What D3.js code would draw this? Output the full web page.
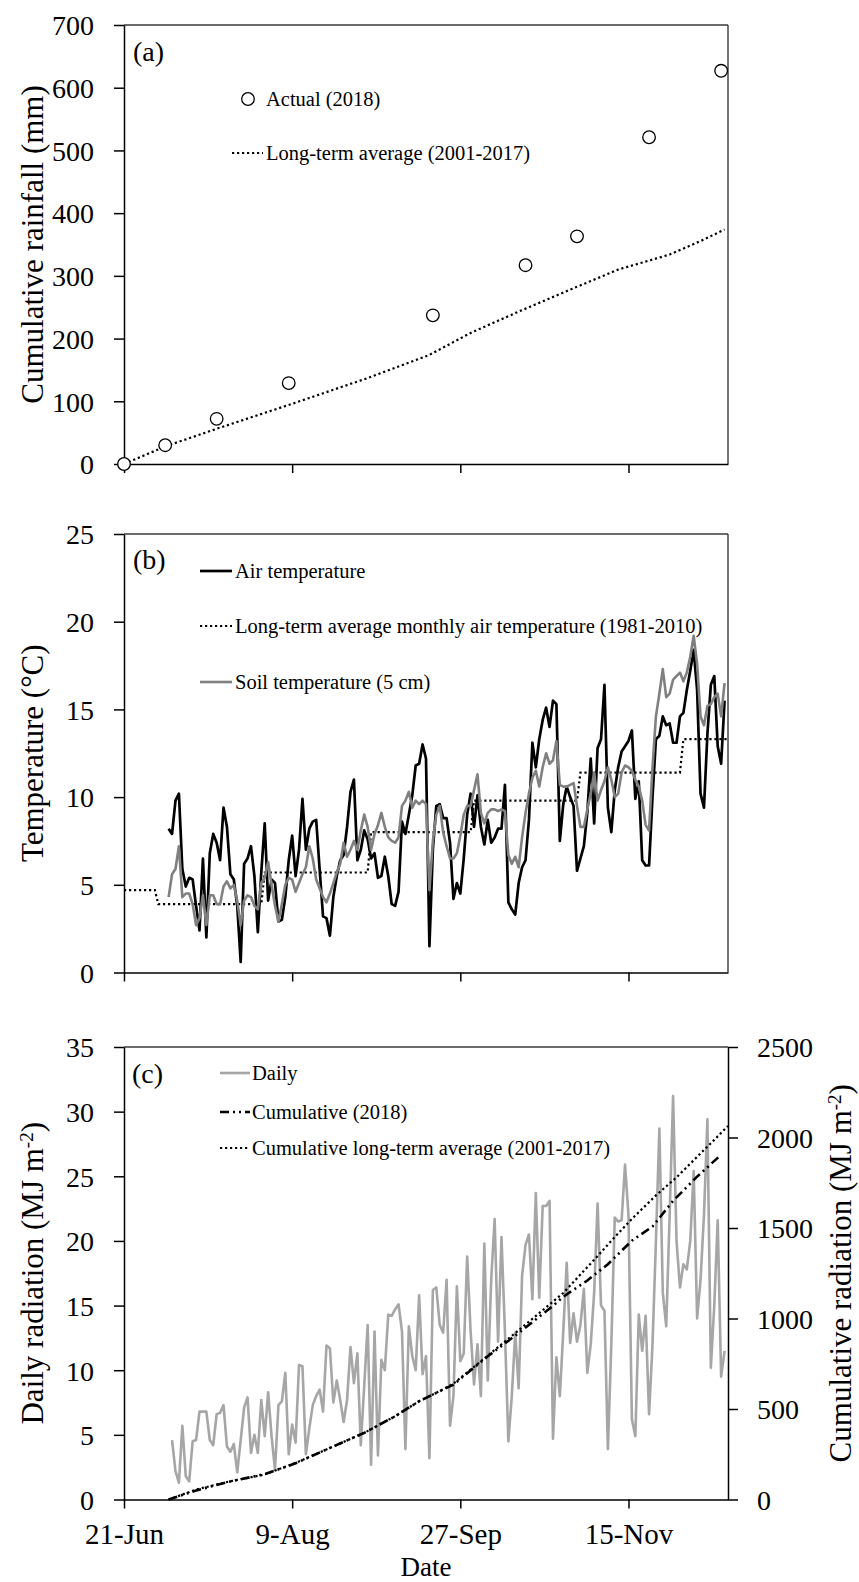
<!DOCTYPE html>
<html>
<head>
<meta charset="utf-8">
<script src="https://cdn.jsdelivr.net/npm/d3@7"></script>
<style>
  body { margin: 0; background: #fff; }
  svg text { font-family: "Liberation Serif", "Times New Roman", serif; fill: #000; }
</style>
</head>
<body>
<div id="chart"></div>
<script>
// ---- data ----

// (a) cumulative rainfall
const rainDates = ["2018-06-21","2018-07-03","2018-07-18","2018-08-08","2018-09-19","2018-10-16","2018-10-31","2018-11-21","2018-12-12"]
const rainActual = [0, 30, 72, 129, 237, 317, 363, 521, 627]
const rainLtDates = ["2018-06-21","2018-07-03","2018-07-19","2018-08-09","2018-08-31","2018-09-18","2018-09-30","2018-10-14","2018-10-29","2018-11-12","2018-11-27","2018-12-07","2018-12-13"]
const rainLt = [0, 28, 58, 96, 137, 174, 209, 243, 278, 310, 334, 358, 374]

// (b) temperature, daily from 4 Jul
const tempStart = "2018-07-04"
const airTemp = [
  8.2, 7.9, 9.8, 10.2, 5.9, 4.9, 5.4, 5.3, 3.8, 2.4,
  6.5, 2.0, 6.8, 7.9, 7.4, 6.4, 9.4, 8.3, 5.6, 5.3,
  3.8, 0.6, 6.2, 6.5, 7.2, 5.5, 2.3, 5.7, 8.5, 4.1,
  5.3, 5.1, 2.9, 3.0, 4.3, 6.4, 7.8, 5.5, 7.0, 9.9,
  7.0, 8.2, 8.6, 8.7, 5.9, 3.2, 3.1, 2.1, 4.3, 5.5,
  6.4, 6.7, 8.3, 10.3, 11.0, 6.4, 7.0, 8.1, 7.6, 6.5,
  6.8, 5.4, 5.5, 6.6, 5.5, 3.9, 3.8, 4.6, 8.6, 7.9,
  9.0, 10.1, 11.8, 11.9, 13.0, 12.2, 1.5, 7.0, 9.5, 9.6,
  8.8, 8.8, 7.4, 4.2, 5.1, 4.5, 6.5, 9.0, 10.2, 8.3,
  10.1, 8.3, 7.3, 8.7, 7.4, 7.7, 8.2, 8.2, 10.7, 4.0,
  3.6, 3.3, 5.1, 6.0, 6.4, 8.7, 13.1, 11.7, 13.3, 14.4,
  15.1, 14.0, 15.5, 15.3, 7.5, 9.6, 10.6, 10.0, 9.5, 5.8,
  6.5, 7.2, 9.1, 12.2, 8.5, 12.8, 13.3, 16.4, 9.4, 8.0,
  10.4, 11.7, 12.6, 12.9, 13.2, 13.8, 9.9, 10.9, 6.4, 6.1,
  6.1, 10.0, 13.3, 13.5, 14.6, 14.1, 14.2, 13.1, 13.1, 14.6,
  14.8, 16.1, 17.2, 18.4, 16.1, 10.2, 9.4, 13.6, 16.4, 16.9,
  12.9, 11.9, 15.5
]
const soilTemp = [
  4.3, 5.6, 5.9, 7.2, 4.3, 4.5, 4.5, 3.9, 2.7, 3.1,
  4.4, 2.7, 4.4, 4.4, 3.9, 3.9, 4.9, 5.2, 4.8, 5.0,
  4.1, 2.7, 4.1, 4.4, 4.3, 3.8, 3.6, 5.1, 5.4, 6.3,
  5.0, 3.8, 2.9, 3.9, 5.0, 5.4, 5.3, 4.6, 5.1, 5.6,
  6.0, 7.2, 6.5, 5.3, 4.8, 4.3, 4.0, 4.5, 5.1, 5.7,
  6.2, 7.4, 6.6, 7.0, 7.5, 7.0, 8.1, 9.0, 8.3, 7.0,
  7.9, 8.4, 9.1, 8.3, 7.7, 7.5, 7.4, 7.7, 9.5, 9.8,
  10.3, 9.4, 9.8, 9.6, 9.8, 9.6, 4.7, 7.5, 9.0, 9.5,
  8.0, 7.2, 6.5, 6.5, 6.8, 7.8, 9.0, 9.5, 9.5, 10.4,
  11.3, 9.1, 8.5, 9.1, 9.3, 9.3, 9.2, 9.3, 9.2, 6.7,
  6.2, 6.6, 6.0, 7.7, 9.1, 10.2, 11.1, 11.5, 10.6, 11.7,
  12.5, 11.9, 12.1, 13.2, 10.7, 10.6, 10.6, 10.7, 10.8, 9.5,
  8.3, 8.3, 9.3, 10.2, 11.4, 9.8, 10.4, 10.9, 11.7, 11.0,
  10.0, 10.2, 11.4, 11.8, 11.7, 11.5, 11.0, 10.6, 9.8, 8.4,
  8.1, 11.7, 14.6, 15.9, 17.3, 15.7, 15.9, 16.7, 16.9, 17.1,
  16.6, 17.1, 18.0, 19.2, 17.6, 14.6, 14.1, 15.2, 15.3, 15.7,
  15.9, 14.6, 16.5
]
// long-term monthly means (1981-2010), step line
const monthStarts = ["2018-06-21","2018-07-01","2018-08-01","2018-09-01","2018-10-01","2018-11-01","2018-12-01"]
const monthlyTemp = [4.7, 3.9, 5.7, 8.0, 9.8, 11.4, 13.3]
const seriesEnd = "2018-12-14"

// (c) radiation, daily from 5 Jul
const radStart = "2018-07-05"
const radDaily = [
  4.6, 2.2, 1.3, 5.7, 1.8, 1.4, 4.5, 4.6, 6.8, 6.8,
  6.8, 4.6, 4.2, 6.6, 6.7, 7.3, 4.1, 3.7, 4.3, 2.1,
  4.6, 7.1, 7.9, 3.6, 5.0, 3.6, 7.7, 4.9, 8.3, 4.9,
  2.3, 7.3, 7.6, 9.8, 3.5, 5.8, 4.4, 10.4, 10.3, 3.5,
  5.5, 7.3, 8.0, 8.5, 6.8, 11.9, 11.7, 7.5, 9.2, 7.7,
  6.0, 7.7, 11.8, 9.0, 11.3, 4.2, 8.8, 13.5, 2.7, 13.0,
  3.4, 10.8, 10.0, 14.3, 14.2, 14.7, 15.1, 13.0, 3.9, 13.4,
  11.1, 10.0, 15.8, 9.7, 11.1, 3.2, 16.2, 16.4, 13.5, 12.9,
  17.0, 5.7, 8.0, 16.5, 10.7, 11.3, 18.8, 13.0, 8.9, 12.0,
  8.0, 19.8, 9.2, 17.0, 21.7, 12.2, 20.3, 13.0, 4.5, 8.0,
  12.9, 8.6, 17.3, 19.7, 20.5, 15.5, 23.7, 15.6, 22.7, 22.7,
  23.1, 4.7, 11.0, 8.0, 13.0, 18.3, 12.1, 14.4, 12.2, 13.5,
  16.3, 9.8, 12.0, 16.0, 22.9, 15.0, 14.6, 3.9, 12.0, 21.8,
  21.5, 21.6, 25.9, 22.0, 6.2, 4.9, 14.3, 11.5, 14.2, 6.6,
  12.0, 20.0, 28.7, 16.0, 13.4, 22.0, 31.2, 20.0, 16.4, 18.2,
  17.8, 20.0, 25.4, 14.0, 17.0, 22.0, 29.4, 10.2, 15.0, 21.6,
  9.5, 11.5
]
const cumRadDates = ["2018-07-04","2018-07-12","2018-07-22","2018-08-01","2018-08-10","2018-08-20","2018-08-30","2018-09-08","2018-09-15","2018-09-20","2018-09-25","2018-10-05","2018-10-14","2018-10-20","2018-10-24","2018-10-27","2018-11-03","2018-11-09","2018-11-16","2018-11-22","2018-11-28","2018-12-05","2018-12-12"]
const cumRad2018 = [0, 50, 100, 140, 200, 285, 368, 460, 543, 589, 635, 791, 920, 1010, 1070, 1120, 1210, 1300, 1430, 1508, 1650, 1784, 1905]
const cumRadLtDates = ["2018-07-04","2018-07-12","2018-07-22","2018-08-01","2018-08-10","2018-08-20","2018-08-30","2018-09-08","2018-09-15","2018-09-20","2018-09-25","2018-10-05","2018-10-14","2018-10-20","2018-10-27","2018-11-06","2018-11-11","2018-11-16","2018-11-23","2018-11-29","2018-12-05","2018-12-10","2018-12-14"]
const cumRadLt = [0, 55, 101, 138, 202, 285, 368, 460, 543, 589, 640, 795, 935, 1030, 1141, 1345, 1450, 1550, 1680, 1780, 1893, 1987, 2064]

// axis ticks
const xTickDates = ["2018-06-21","2018-08-09","2018-09-27","2018-11-15"]
const rainTicks = [0, 100, 200, 300, 400, 500, 600, 700]
const tempTicks = [0, 5, 10, 15, 20, 25]
const radTicks = [0, 5, 10, 15, 20, 25, 30, 35]
const cumTicks = [0, 500, 1000, 1500, 2000, 2500]

// ---- layout ----
const width = 859, height = 1582
const left = 124, right = 728
const pa = { top: 25, bottom: 464 }
const pb = { top: 534, bottom: 972.5 }
const pc = { top: 1047, bottom: 1499.5 }

const parse = d3.utcParse("%Y-%m-%d")

const svg = d3.select("#chart").append("svg")
    .attr("width", width)
    .attr("height", height)

svg.append("rect").attr("width", width).attr("height", height).attr("fill", "#fff")

const x = d3.scaleUtc()
  .domain([parse("2018-06-21"), parse(seriesEnd)])
  .range([left, right])

const yA = d3.scaleLinear().domain([0, 700]).range([pa.bottom, pa.top])
const yB = d3.scaleLinear().domain([0, 25]).range([pb.bottom, pb.top])
const yC = d3.scaleLinear().domain([0, 35]).range([pc.bottom, pc.top])
const yC2 = d3.scaleLinear().domain([0, 2500]).range([pc.bottom, pc.top])

const daily = (start, values) => values.map((v, i) => ({ date: d3.utcDay.offset(parse(start), i), v }))
const paired = (dates, values) => dates.map((d, i) => ({ date: parse(d), v: values[i] }))

// frame + axes for a panel
function frame(p, y, ticks, showDates, rightBorder) {
  const g = svg.append("g")

  g.append("line")
    .attr("x1", left).attr("x2", right)
    .attr("y1", p.top).attr("y2", p.top)
    .attr("stroke", "#3a3a3a").attr("stroke-width", 1.4)
  if (rightBorder) {
    g.append("line")
      .attr("x1", right).attr("x2", right)
      .attr("y1", p.top).attr("y2", p.bottom)
      .attr("stroke", "#3a3a3a").attr("stroke-width", 1.4)
  }

  const ya = g.append("g")
    .attr("transform", "translate(" + left + ",0)")
    .call(d3.axisLeft(y).tickValues(ticks).tickSize(10).tickSizeOuter(0).tickPadding(20).tickFormat(d3.format("d")))
  ya.selectAll("text").style("font-size", "28px").attr("dy", "0.35em")

  const xa = g.append("g")
    .attr("transform", "translate(0," + p.bottom + ")")
    .call(d3.axisBottom(x)
      .tickValues(xTickDates.map(parse))
      .tickSize(9).tickSizeOuter(0).tickPadding(15)
      .tickFormat(showDates ? d3.utcFormat("%-d-%b") : ""))
  xa.selectAll("text").style("font-size", "29px")

  g.selectAll(".domain, .tick line").attr("stroke", "#000").attr("stroke-width", 1.5)
  g.selectAll(".tick text").attr("fill", "#000")
  return g
}

function yTitle(xPos, yPos, parts) {
  const t = svg.append("text")
    .attr("transform", "translate(" + xPos + "," + yPos + ") rotate(-90)")
    .attr("text-anchor", "middle")
    .style("font-size", "31px")
  parts.forEach(pt => {
    const s = t.append("tspan").text(pt.t)
    if (pt.sup) s.attr("baseline-shift", "super").style("font-size", "19px")
  })
}

const line = y => d3.line().x(d => x(d.date)).y(d => y(d.v))
const legendFont = "20.5px"

// ---------- (a) ----------
frame(pa, yA, rainTicks, false, true)
yTitle(43, (pa.top + pa.bottom) / 2, [{ t: "Cumulative rainfall (mm)" }])

svg.append("path")
  .datum(paired(rainLtDates, rainLt))
  .attr("d", line(yA))
  .attr("fill", "none").attr("stroke", "#000")
  .attr("stroke-width", 2.2).attr("stroke-dasharray", "2.2,2.8")

svg.selectAll(".rain")
  .data(paired(rainDates, rainActual))
  .join("circle")
  .attr("class", "rain")
  .attr("cx", d => x(d.date))
  .attr("cy", d => yA(d.v))
  .attr("r", 6.3)
  .attr("fill", "#fff").attr("stroke", "#000").attr("stroke-width", 1.3)

svg.append("text").attr("x", 133).attr("y", 61).style("font-size", "28px").text("(a)")
svg.append("circle").attr("cx", 248).attr("cy", 99).attr("r", 6.3)
  .attr("fill", "#fff").attr("stroke", "#000").attr("stroke-width", 1.3)
svg.append("text").attr("x", 266).attr("y", 99).attr("dy", "0.35em").style("font-size", legendFont).text("Actual (2018)")
svg.append("line").attr("x1", 232).attr("x2", 263).attr("y1", 153).attr("y2", 153)
  .attr("stroke", "#000").attr("stroke-width", 2.2).attr("stroke-dasharray", "2.2,2.8")
svg.append("text").attr("x", 266).attr("y", 153).attr("dy", "0.35em").style("font-size", legendFont).text("Long-term average (2001-2017)")

// ---------- (b) ----------
frame(pb, yB, tempTicks, false, true)
yTitle(43, (pb.top + pb.bottom) / 2, [{ t: "Temperature (°C)" }])

// monthly step: each month flat from its first to its last day
const stepPts = []
monthStarts.forEach((m, i) => {
  const s = parse(m)
  const e = i < monthStarts.length - 1 ? d3.utcDay.offset(parse(monthStarts[i + 1]), -1) : parse(seriesEnd)
  stepPts.push({ date: s, v: monthlyTemp[i] }, { date: e, v: monthlyTemp[i] })
})

svg.append("path")
  .datum(daily(tempStart, airTemp))
  .attr("d", line(yB))
  .attr("fill", "none").attr("stroke", "#000").attr("stroke-width", 2.7)
  .attr("stroke-linejoin", "round")

svg.append("path")
  .datum(stepPts)
  .attr("d", line(yB))
  .attr("fill", "none").attr("stroke", "#000")
  .attr("stroke-width", 2.2).attr("stroke-dasharray", "2.2,2.8")

svg.append("path")
  .datum(daily(tempStart, soilTemp))
  .attr("d", line(yB))
  .attr("fill", "none").attr("stroke", "#808080").attr("stroke-width", 2.6)
  .attr("stroke-linejoin", "round")

svg.append("text").attr("x", 133).attr("y", 569).style("font-size", "28px").text("(b)")
const legB = [
  { y: 571, label: "Air temperature", color: "#000", dash: null, w: 2.7 },
  { y: 626, label: "Long-term average monthly air temperature (1981-2010)", color: "#000", dash: "2.2,2.8", w: 2.2 },
  { y: 682, label: "Soil temperature (5 cm)", color: "#808080", dash: null, w: 2.6 }
]
legB.forEach(l => {
  svg.append("line").attr("x1", 200).attr("x2", 232).attr("y1", l.y).attr("y2", l.y)
    .attr("stroke", l.color).attr("stroke-width", l.w).attr("stroke-dasharray", l.dash)
  svg.append("text").attr("x", 235).attr("y", l.y).attr("dy", "0.35em").style("font-size", legendFont).text(l.label)
})

// ---------- (c) ----------
frame(pc, yC, radTicks, true, false)
const ra = svg.append("g")
  .attr("transform", "translate(" + right + ",0)")
  .call(d3.axisRight(yC2).tickValues(cumTicks).tickSize(10).tickSizeOuter(0).tickPadding(19).tickFormat(d3.format("d")))
ra.selectAll("text").style("font-size", "28px").attr("dy", "0.35em").attr("fill", "#000")
ra.selectAll(".domain, .tick line").attr("stroke", "#000").attr("stroke-width", 1.5)

yTitle(43, (pc.top + pc.bottom) / 2, [{ t: "Daily radiation (MJ m" }, { t: "-2", sup: true }, { t: ")" }])
yTitle(851, (pc.top + pc.bottom) / 2, [{ t: "Cumulative radiation (MJ m" }, { t: "-2", sup: true }, { t: ")" }])

svg.append("text").attr("x", (left + right) / 2).attr("y", 1575.5)
  .attr("text-anchor", "middle").style("font-size", "27px").text("Date")

svg.append("path")
  .datum(daily(radStart, radDaily))
  .attr("d", line(yC))
  .attr("fill", "none").attr("stroke", "#a6a6a6").attr("stroke-width", 2.6)
  .attr("stroke-linejoin", "round")

svg.append("path")
  .datum(paired(cumRadDates, cumRad2018))
  .attr("d", line(yC2))
  .attr("fill", "none").attr("stroke", "#000")
  .attr("stroke-width", 2.6).attr("stroke-dasharray", "9,4,2,4,2,4")

svg.append("path")
  .datum(paired(cumRadLtDates, cumRadLt))
  .attr("d", line(yC2))
  .attr("fill", "none").attr("stroke", "#000")
  .attr("stroke-width", 2.2).attr("stroke-dasharray", "2.2,2.8")

svg.append("text").attr("x", 132).attr("y", 1083).style("font-size", "28px").text("(c)")
const legC = [
  { y: 1073, label: "Daily", color: "#a6a6a6", dash: null, w: 2.6 },
  { y: 1112, label: "Cumulative (2018)", color: "#000", dash: "9,4,2,4,2,4", w: 2.6 },
  { y: 1148, label: "Cumulative long-term average (2001-2017)", color: "#000", dash: "2.2,2.8", w: 2.2 }
]
legC.forEach(l => {
  svg.append("line").attr("x1", 220).attr("x2", 250).attr("y1", l.y).attr("y2", l.y)
    .attr("stroke", l.color).attr("stroke-width", l.w).attr("stroke-dasharray", l.dash)
  svg.append("text").attr("x", 252).attr("y", l.y).attr("dy", "0.35em").style("font-size", legendFont).text(l.label)
})
</script>
</body>
</html>
